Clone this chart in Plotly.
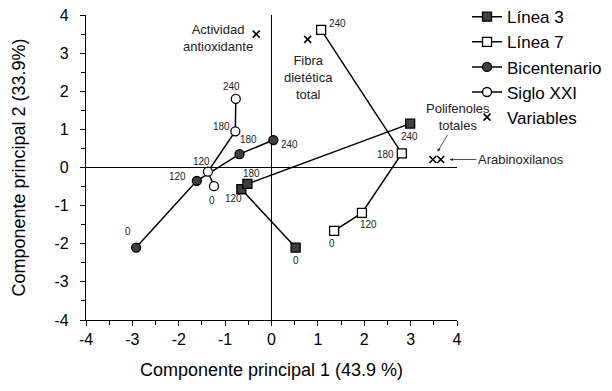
import plotly.graph_objects as go

# ---- data ----
times = ["0", "120", "180", "240"]

linea3_x = [0.52, -0.65, -0.52, 2.99]
linea3_y = [-2.10, -0.57, -0.43, 1.15]

linea7_x = [1.35, 1.95, 2.81, 1.07]
linea7_y = [-1.66, -1.19, 0.37, 3.61]

bicent_x = [-2.92, -1.61, -0.69, 0.04]
bicent_y = [-2.10, -0.35, 0.35, 0.72]

siglo_x = [-1.24, -1.37, -0.78, -0.77]
siglo_y = [-0.49, -0.11, 0.95, 1.80]

var_names = ["Actividad antioxidante", "Fibra dietética total", "Polifenoles totales", "Arabinoxilanos"]
var_x = [-0.33, 0.78, 3.48, 3.65]
var_y = [3.50, 3.36, 0.21, 0.21]

x_ticks = [-4, -3, -2, -1, 0, 1, 2, 3, 4]
y_ticks = [-4, -3, -2, -1, 0, 1, 2, 3, 4]

# ---- label offsets (pixels) for point labels ----
offsets = {
    "Línea 3": [(0, -13), (-8, -9), (4, 10), (-1, -13)],
    "Línea 7": [(-2, -13), (7, -12), (-16, -1), (16, 6)],
    "Bicentenario": [(-8, 16), (-19, 4), (9, 15), (16, -4)],
    "Siglo XXI": [(-2, -14), (-6, 10), (-14, 5), (-4, 12)],
}

FONT = "Liberation Sans, Arial, sans-serif"
series = [
    ("Línea 3", linea3_x, linea3_y, "square", "#3f3f3f", 9),
    ("Línea 7", linea7_x, linea7_y, "square", "white", 9),
    ("Bicentenario", bicent_x, bicent_y, "circle", "#3f3f3f", 9),
    ("Siglo XXI", siglo_x, siglo_y, "circle", "white", 9),
]

fig = go.Figure()
annotations = []
for name, xs, ys, sym, fill, size in series:
    fig.add_trace(go.Scatter(
        x=xs, y=ys, name=name, mode="lines+markers",
        line=dict(color="black", width=1.5),
        marker=dict(symbol=sym, size=size, color=fill, line=dict(color="black", width=1.3)),
    ))
    for (xv, yv, t, (dx, dy)) in zip(xs, ys, times, offsets[name]):
        annotations.append(dict(
            x=xv, y=yv, text=t, showarrow=False, xshift=dx, yshift=dy,
            font=dict(size=10, color="#222", family=FONT),
        ))

fig.add_trace(go.Scatter(
    x=var_x, y=var_y, name="Variables", mode="markers",
    marker=dict(symbol="x-thin", size=7, color="black", line=dict(color="black", width=1.6)),
))

vfont = dict(size=13, color="#222", family=FONT)
annotations.append(dict(x=var_x[0], y=var_y[0], text="Actividad<br>antioxidante",
                        showarrow=False, xshift=-38, yshift=-4, font=vfont))
annotations.append(dict(x=var_x[1], y=var_y[1], text="Fibra<br>dietética<br>total",
                        showarrow=False, xshift=1, yshift=-38, font=vfont))
annotations.append(dict(x=var_x[2], y=var_y[2], text="Polifenoles<br>totales",
                        showarrow=True, ax=25, ay=-42, standoff=9,
                        arrowhead=2, arrowsize=0.8, arrowwidth=0.8, arrowcolor="#222",
                        font=vfont))
annotations.append(dict(x=var_x[3], y=var_y[3], text="Arabinoxilanos",
                        showarrow=True, ax=80, ay=0, standoff=9,
                        arrowhead=2, arrowsize=0.8, arrowwidth=0.8, arrowcolor="#222",
                        font=vfont))

axis_common = dict(
    showgrid=False, zeroline=True, zerolinecolor="black", zerolinewidth=1,
    showline=True, linecolor="black", linewidth=1.3,
    ticks="outside", ticklen=5, tickwidth=1.2, tickcolor="black",
    tickfont=dict(size=16, color="black", family=FONT),
    ticklabeloverflow="allow",
    minor=dict(dtick=0.5, ticks="outside", ticklen=4, tickwidth=1.2, tickcolor="black"),
)

fig.update_layout(
    width=604, height=383,
    margin=dict(l=78, r=155, t=7, b=71, autoexpand=False),
    paper_bgcolor="white", plot_bgcolor="white",
    font=dict(family=FONT, color="black"),
    xaxis=dict(range=[-4, 4], tickvals=x_ticks, ticktext=[str(v) for v in x_ticks],
               title=dict(text="Componente principal 1 (43.9 %)", font=dict(size=18), standoff=16),
               **axis_common),
    yaxis=dict(range=[-4, 4], tickvals=y_ticks, ticktext=[str(v) for v in y_ticks],
               ticklabelstandoff=8,
               title=dict(text="Componente principal 2 (33.9%)", font=dict(size=18), standoff=24),
               **axis_common),
    showlegend=True,
    legend=dict(x=1.027, y=1.052, xanchor="left", yanchor="top",
                font=dict(size=17, color="black", family=FONT),
                itemwidth=30, bgcolor="rgba(0,0,0,0)", tracegroupgap=0),
    annotations=annotations,
)

fig.write_html("out.html")
